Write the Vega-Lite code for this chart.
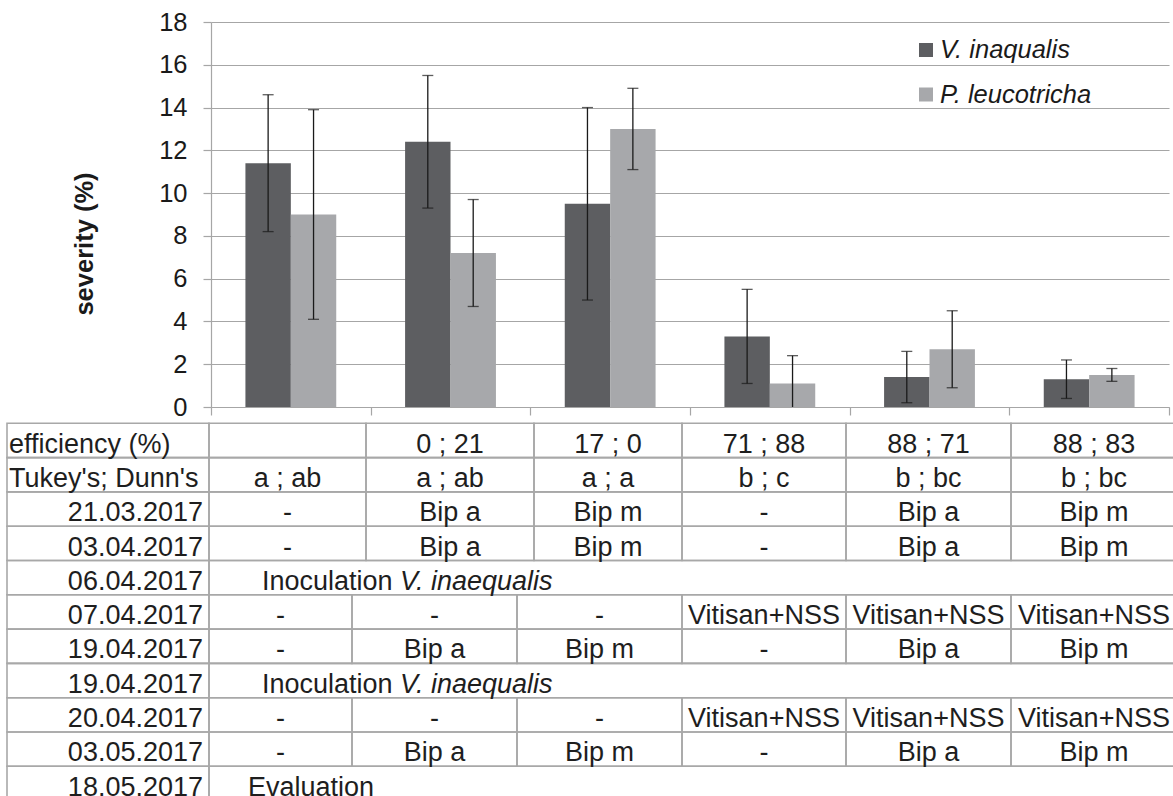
{
  "$schema": "https://vega.github.io/schema/vega-lite/v6.json",
  "width": 958,
  "height": 385,
  "autosize": {"type": "none"},
  "padding": {"left": 211, "top": 22, "right": 4, "bottom": 389},
  "background": "white",
  "config": {"font": "Liberation Sans", "view": {"stroke": null}},
  "datasets": {
    "bars": [
      {"treatment": "T1", "series": "V. inaqualis", "value": 11.4, "lo": 8.2, "hi": 14.6},
      {"treatment": "T1", "series": "P. leucotricha", "value": 9.0, "lo": 4.1, "hi": 13.9},
      {"treatment": "T2", "series": "V. inaqualis", "value": 12.4, "lo": 9.3, "hi": 15.5},
      {"treatment": "T2", "series": "P. leucotricha", "value": 7.2, "lo": 4.7, "hi": 9.7},
      {"treatment": "T3", "series": "V. inaqualis", "value": 9.5, "lo": 5.0, "hi": 14.0},
      {"treatment": "T3", "series": "P. leucotricha", "value": 13.0, "lo": 11.1, "hi": 14.9},
      {"treatment": "T4", "series": "V. inaqualis", "value": 3.3, "lo": 1.1, "hi": 5.5},
      {"treatment": "T4", "series": "P. leucotricha", "value": 1.1, "lo": -0.2, "hi": 2.4},
      {"treatment": "T5", "series": "V. inaqualis", "value": 1.4, "lo": 0.2, "hi": 2.6},
      {"treatment": "T5", "series": "P. leucotricha", "value": 2.7, "lo": 0.9, "hi": 4.5},
      {"treatment": "T6", "series": "V. inaqualis", "value": 1.3, "lo": 0.4, "hi": 2.2},
      {"treatment": "T6", "series": "P. leucotricha", "value": 1.5, "lo": 1.2, "hi": 1.8}
    ],
    "cells": [
      {"row": 0, "grid": "U", "kind": "labelL", "c0": 0, "c1": 1, "text": "efficiency (%)"},
      {"row": 0, "grid": "U", "kind": "cell", "c0": 1, "c1": 2, "mid": 1.5, "text": ""},
      {"row": 0, "grid": "U", "kind": "cell", "c0": 2, "c1": 3, "mid": 2.5, "text": "0 ; 21"},
      {"row": 0, "grid": "U", "kind": "cell", "c0": 3, "c1": 4, "mid": 3.5, "text": "17 ; 0"},
      {"row": 0, "grid": "U", "kind": "cell", "c0": 4, "c1": 5, "mid": 4.5, "text": "71 ; 88"},
      {"row": 0, "grid": "U", "kind": "cell", "c0": 5, "c1": 6, "mid": 5.5, "text": "88 ; 71"},
      {"row": 0, "grid": "U", "kind": "cell", "c0": 6, "c1": 7, "mid": 6.5, "text": "88 ; 83"},
      {"row": 1, "grid": "U", "kind": "labelL", "c0": 0, "c1": 1, "text": "Tukey's; Dunn's"},
      {"row": 1, "grid": "U", "kind": "cell", "c0": 1, "c1": 2, "mid": 1.5, "text": "a ; ab"},
      {"row": 1, "grid": "U", "kind": "cell", "c0": 2, "c1": 3, "mid": 2.5, "text": "a ; ab"},
      {"row": 1, "grid": "U", "kind": "cell", "c0": 3, "c1": 4, "mid": 3.5, "text": "a ; a"},
      {"row": 1, "grid": "U", "kind": "cell", "c0": 4, "c1": 5, "mid": 4.5, "text": "b ; c"},
      {"row": 1, "grid": "U", "kind": "cell", "c0": 5, "c1": 6, "mid": 5.5, "text": "b ; bc"},
      {"row": 1, "grid": "U", "kind": "cell", "c0": 6, "c1": 7, "mid": 6.5, "text": "b ; bc"},
      {"row": 2, "grid": "U", "kind": "labelR", "c0": 0, "c1": 1, "text": "21.03.2017"},
      {"row": 2, "grid": "U", "kind": "cell", "c0": 1, "c1": 2, "mid": 1.5, "text": "-"},
      {"row": 2, "grid": "U", "kind": "cell", "c0": 2, "c1": 3, "mid": 2.5, "text": "Bip a"},
      {"row": 2, "grid": "U", "kind": "cell", "c0": 3, "c1": 4, "mid": 3.5, "text": "Bip m"},
      {"row": 2, "grid": "U", "kind": "cell", "c0": 4, "c1": 5, "mid": 4.5, "text": "-"},
      {"row": 2, "grid": "U", "kind": "cell", "c0": 5, "c1": 6, "mid": 5.5, "text": "Bip a"},
      {"row": 2, "grid": "U", "kind": "cell", "c0": 6, "c1": 7, "mid": 6.5, "text": "Bip m"},
      {"row": 3, "grid": "U", "kind": "labelR", "c0": 0, "c1": 1, "text": "03.04.2017"},
      {"row": 3, "grid": "U", "kind": "cell", "c0": 1, "c1": 2, "mid": 1.5, "text": "-"},
      {"row": 3, "grid": "U", "kind": "cell", "c0": 2, "c1": 3, "mid": 2.5, "text": "Bip a"},
      {"row": 3, "grid": "U", "kind": "cell", "c0": 3, "c1": 4, "mid": 3.5, "text": "Bip m"},
      {"row": 3, "grid": "U", "kind": "cell", "c0": 4, "c1": 5, "mid": 4.5, "text": "-"},
      {"row": 3, "grid": "U", "kind": "cell", "c0": 5, "c1": 6, "mid": 5.5, "text": "Bip a"},
      {"row": 3, "grid": "U", "kind": "cell", "c0": 6, "c1": 7, "mid": 6.5, "text": "Bip m"},
      {"row": 4, "grid": "U", "kind": "labelR", "c0": 0, "c1": 1, "text": "06.04.2017"},
      {"row": 4, "grid": "U", "kind": "inoc", "c0": 1, "c1": 7, "text": "Inoculation", "text2": "V. inaequalis"},
      {"row": 5, "grid": "U", "kind": "labelR", "c0": 0, "c1": 1, "text": "07.04.2017"},
      {"row": 5, "grid": "L", "kind": "cell", "c0": 1, "c1": 2, "mid": 1.5, "text": "-"},
      {"row": 5, "grid": "L", "kind": "cell", "c0": 2, "c1": 3, "mid": 2.5, "text": "-"},
      {"row": 5, "grid": "L", "kind": "cell", "c0": 3, "c1": 4, "mid": 3.5, "text": "-"},
      {"row": 5, "grid": "L", "kind": "cell", "c0": 4, "c1": 5, "mid": 4.5, "text": "Vitisan+NSS"},
      {"row": 5, "grid": "L", "kind": "cell", "c0": 5, "c1": 6, "mid": 5.5, "text": "Vitisan+NSS"},
      {"row": 5, "grid": "L", "kind": "cell", "c0": 6, "c1": 7, "mid": 6.5, "text": "Vitisan+NSS"},
      {"row": 6, "grid": "U", "kind": "labelR", "c0": 0, "c1": 1, "text": "19.04.2017"},
      {"row": 6, "grid": "L", "kind": "cell", "c0": 1, "c1": 2, "mid": 1.5, "text": "-"},
      {"row": 6, "grid": "L", "kind": "cell", "c0": 2, "c1": 3, "mid": 2.5, "text": "Bip a"},
      {"row": 6, "grid": "L", "kind": "cell", "c0": 3, "c1": 4, "mid": 3.5, "text": "Bip m"},
      {"row": 6, "grid": "L", "kind": "cell", "c0": 4, "c1": 5, "mid": 4.5, "text": "-"},
      {"row": 6, "grid": "L", "kind": "cell", "c0": 5, "c1": 6, "mid": 5.5, "text": "Bip a"},
      {"row": 6, "grid": "L", "kind": "cell", "c0": 6, "c1": 7, "mid": 6.5, "text": "Bip m"},
      {"row": 7, "grid": "U", "kind": "labelR", "c0": 0, "c1": 1, "text": "19.04.2017"},
      {"row": 7, "grid": "U", "kind": "inoc", "c0": 1, "c1": 7, "text": "Inoculation", "text2": "V. inaequalis"},
      {"row": 8, "grid": "U", "kind": "labelR", "c0": 0, "c1": 1, "text": "20.04.2017"},
      {"row": 8, "grid": "L", "kind": "cell", "c0": 1, "c1": 2, "mid": 1.5, "text": "-"},
      {"row": 8, "grid": "L", "kind": "cell", "c0": 2, "c1": 3, "mid": 2.5, "text": "-"},
      {"row": 8, "grid": "L", "kind": "cell", "c0": 3, "c1": 4, "mid": 3.5, "text": "-"},
      {"row": 8, "grid": "L", "kind": "cell", "c0": 4, "c1": 5, "mid": 4.5, "text": "Vitisan+NSS"},
      {"row": 8, "grid": "L", "kind": "cell", "c0": 5, "c1": 6, "mid": 5.5, "text": "Vitisan+NSS"},
      {"row": 8, "grid": "L", "kind": "cell", "c0": 6, "c1": 7, "mid": 6.5, "text": "Vitisan+NSS"},
      {"row": 9, "grid": "U", "kind": "labelR", "c0": 0, "c1": 1, "text": "03.05.2017"},
      {"row": 9, "grid": "L", "kind": "cell", "c0": 1, "c1": 2, "mid": 1.5, "text": "-"},
      {"row": 9, "grid": "L", "kind": "cell", "c0": 2, "c1": 3, "mid": 2.5, "text": "Bip a"},
      {"row": 9, "grid": "L", "kind": "cell", "c0": 3, "c1": 4, "mid": 3.5, "text": "Bip m"},
      {"row": 9, "grid": "L", "kind": "cell", "c0": 4, "c1": 5, "mid": 4.5, "text": "-"},
      {"row": 9, "grid": "L", "kind": "cell", "c0": 5, "c1": 6, "mid": 5.5, "text": "Bip a"},
      {"row": 9, "grid": "L", "kind": "cell", "c0": 6, "c1": 7, "mid": 6.5, "text": "Bip m"},
      {"row": 10, "grid": "U", "kind": "labelR", "c0": 0, "c1": 1, "text": "18.05.2017"},
      {"row": 10, "grid": "U", "kind": "eval", "c0": 1, "c1": 7, "text": "Evaluation"}
    ]
  },
  "layer": [
    {
      "data": {"name": "bars"},
      "encoding": {
        "x": {
          "field": "treatment", "type": "nominal", "sort": null,
          "scale": {"paddingInner": 0, "paddingOuter": 0},
          "axis": {"labels": false, "title": null, "grid": false, "tickBand": "extent", "tickSize": 8, "tickColor": "#a6a6a6", "tickWidth": 1.2, "domainColor": "#a6a6a6", "domainWidth": 1.2}
        },
        "xOffset": {"field": "series", "type": "nominal", "sort": null, "scale": {"paddingInner": 0, "paddingOuter": 0.758}}
      },
      "layer": [
        {
          "mark": {"type": "bar"},
          "encoding": {
            "y": {
              "field": "value", "type": "quantitative", "title": "severity (%)",
              "scale": {"domain": [0, 18], "nice": false, "zero": true},
              "axis": {
                "values": [0, 2, 4, 6, 8, 10, 12, 14, 16, 18],
                "grid": true, "gridColor": "#a6a6a6", "gridWidth": 1.2,
                "domainColor": "#a6a6a6", "domainWidth": 1.2,
                "tickColor": "#a6a6a6", "tickWidth": 1.2, "tickSize": 8,
                "labelFontSize": 25.5, "labelColor": "#1a1a1a", "labelPadding": 16,
                "titleFontSize": 25.5, "titleFontWeight": "bold", "titleColor": "#1a1a1a",
                "titleAngle": -90, "titleX": -119, "titleY": 221.5, "titleAlign": "center", "titleBaseline": "alphabetic"
              }
            },
            "color": {
              "field": "series", "type": "nominal", "sort": null,
              "scale": {"domain": ["V. inaqualis", "P. leucotricha"], "range": ["#5d5e61", "#a7a8ab"]},
              "legend": {
                "orient": "none", "legendX": 702.25, "legendY": 15.25, "direction": "vertical", "title": null,
                "symbolType": "square", "symbolSize": 196, "symbolStrokeWidth": 0, "symbolOpacity": 1,
                "labelFontSize": 25.5, "labelFontStyle": "italic", "labelColor": "#1a1a1a",
                "labelOffset": 1.25, "rowPadding": 17.5, "padding": 0, "labelLimit": 0
              }
            }
          }
        },
        {
          "mark": {"type": "rule", "color": "#1a1a1a", "strokeWidth": 1.3, "clip": true},
          "encoding": {
            "y": {"field": "lo", "type": "quantitative", "title": "severity (%)"},
            "y2": {"field": "hi"}
          }
        },
        {
          "mark": {"type": "tick", "color": "#1a1a1a", "thickness": 1.3, "size": 11, "clip": true},
          "encoding": {"y": {"field": "lo", "type": "quantitative", "title": "severity (%)"}}
        },
        {
          "mark": {"type": "tick", "color": "#1a1a1a", "thickness": 1.3, "size": 11, "clip": true},
          "encoding": {"y": {"field": "hi", "type": "quantitative", "title": "severity (%)"}}
        }
      ]
    },
    {
      "data": {"name": "cells"},
      "encoding": {
        "y": {
          "field": "row", "type": "ordinal",
          "scale": {"domain": [0, 1, 2, 3, 4, 5, 6, 7, 8, 9, 10], "range": [401.3, 778.6], "paddingInner": 0, "paddingOuter": 0},
          "axis": null
        }
      },
      "layer": [
        {
          "transform": [{"filter": "datum.grid === 'U'"}],
          "mark": {"type": "rect", "fill": "transparent", "stroke": "#a8a8a8", "strokeWidth": 1.6},
          "encoding": {
            "x": {"field": "c0", "type": "quantitative", "axis": null, "scale": {"domain": [0, 1, 2, 3, 4, 5, 6, 7], "range": [-204, -2, 155, 323, 471, 635, 800, 966], "zero": false, "nice": false}},
            "x2": {"field": "c1"}
          }
        },
        {
          "transform": [{"filter": "datum.grid === 'L'"}],
          "mark": {"type": "rect", "fill": "transparent", "stroke": "#a8a8a8", "strokeWidth": 1.6},
          "encoding": {
            "x": {"field": "c0", "type": "quantitative", "axis": null, "scale": {"domain": [0, 1, 2, 3, 4, 5, 6, 7], "range": [-204, -2, 141, 306, 471, 635, 800, 966], "zero": false, "nice": false}},
            "x2": {"field": "c1"}
          }
        },
        {
          "transform": [{"filter": "datum.grid === 'U' && datum.kind === 'cell'"}],
          "mark": {"type": "text", "align": "center", "baseline": "alphabetic", "dy": 12.2, "fontSize": 27, "color": "#1e1e1e"},
          "encoding": {
            "x": {"field": "mid", "type": "quantitative", "axis": null, "scale": {"domain": [0, 1, 2, 3, 4, 5, 6, 7], "range": [-204, -2, 155, 323, 471, 635, 800, 966], "zero": false, "nice": false}},
            "text": {"field": "text"}
          }
        },
        {
          "transform": [{"filter": "datum.grid === 'L' && datum.kind === 'cell'"}],
          "mark": {"type": "text", "align": "center", "baseline": "alphabetic", "dy": 12.2, "fontSize": 27, "color": "#1e1e1e"},
          "encoding": {
            "x": {"field": "mid", "type": "quantitative", "axis": null, "scale": {"domain": [0, 1, 2, 3, 4, 5, 6, 7], "range": [-204, -2, 141, 306, 471, 635, 800, 966], "zero": false, "nice": false}},
            "text": {"field": "text"}
          }
        },
        {
          "transform": [{"filter": "datum.kind === 'labelL'"}],
          "mark": {"type": "text", "align": "left", "baseline": "alphabetic", "dy": 12.2, "dx": 2, "fontSize": 27, "color": "#1e1e1e"},
          "encoding": {
            "x": {"field": "c0", "type": "quantitative", "axis": null, "scale": {"domain": [0, 1, 2, 3, 4, 5, 6, 7], "range": [-204, -2, 155, 323, 471, 635, 800, 966], "zero": false, "nice": false}},
            "text": {"field": "text"}
          }
        },
        {
          "transform": [{"filter": "datum.kind === 'labelR'"}],
          "mark": {"type": "text", "align": "right", "baseline": "alphabetic", "dy": 12.2, "dx": -6, "fontSize": 27, "color": "#1e1e1e"},
          "encoding": {
            "x": {"field": "c1", "type": "quantitative", "axis": null, "scale": {"domain": [0, 1, 2, 3, 4, 5, 6, 7], "range": [-204, -2, 155, 323, 471, 635, 800, 966], "zero": false, "nice": false}},
            "text": {"field": "text"}
          }
        },
        {
          "transform": [{"filter": "datum.kind === 'inoc'"}],
          "mark": {"type": "text", "align": "left", "baseline": "alphabetic", "dy": 12.2, "dx": 53, "fontSize": 27, "color": "#1e1e1e"},
          "encoding": {
            "x": {"field": "c0", "type": "quantitative", "axis": null, "scale": {"domain": [0, 1, 2, 3, 4, 5, 6, 7], "range": [-204, -2, 155, 323, 471, 635, 800, 966], "zero": false, "nice": false}},
            "text": {"field": "text"}
          }
        },
        {
          "transform": [{"filter": "datum.kind === 'inoc'"}],
          "mark": {"type": "text", "align": "left", "baseline": "alphabetic", "dy": 12.2, "dx": 191, "fontSize": 27, "fontStyle": "italic", "color": "#1e1e1e"},
          "encoding": {
            "x": {"field": "c0", "type": "quantitative", "axis": null, "scale": {"domain": [0, 1, 2, 3, 4, 5, 6, 7], "range": [-204, -2, 155, 323, 471, 635, 800, 966], "zero": false, "nice": false}},
            "text": {"field": "text2"}
          }
        },
        {
          "transform": [{"filter": "datum.kind === 'eval'"}],
          "mark": {"type": "text", "align": "left", "baseline": "alphabetic", "dy": 12.2, "dx": 39, "fontSize": 27, "color": "#1e1e1e"},
          "encoding": {
            "x": {"field": "c0", "type": "quantitative", "axis": null, "scale": {"domain": [0, 1, 2, 3, 4, 5, 6, 7], "range": [-204, -2, 155, 323, 471, 635, 800, 966], "zero": false, "nice": false}},
            "text": {"field": "text"}
          }
        }
      ],
      "resolve": {"scale": {"x": "independent"}}
    }
  ],
  "resolve": {"scale": {"x": "independent", "y": "independent"}}
}
